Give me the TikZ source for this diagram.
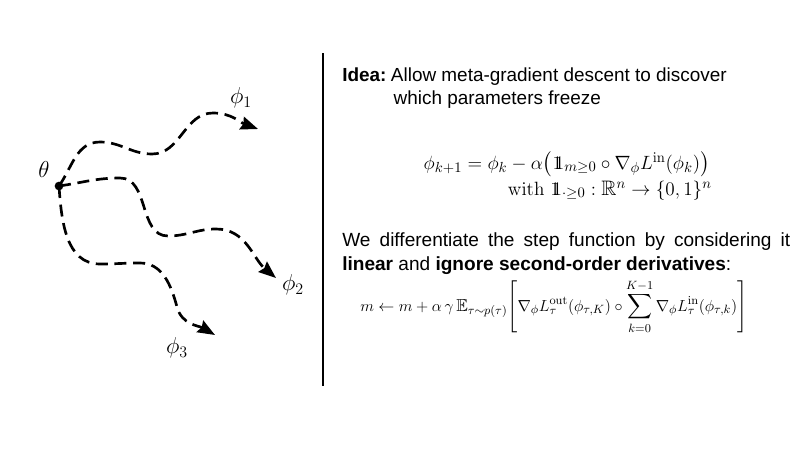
\documentclass[tikz,border=0pt]{standalone}
\usepackage{amsmath,amssymb}
\usepackage[no-math]{fontspec}
\setmainfont{Liberation Sans}
\usetikzlibrary{arrows.meta}
\newcommand{\indic}{\mathrm{1\mkern-6.5mu1}}
\tikzset{
  traj/.style={line width=2pt, dash pattern=on 9pt off 5pt, -{Stealth[length=13pt,width=10pt,inset=1.5pt]}},
  lbl/.style={inner sep=0pt, font=\fontsize{17}{20}\selectfont},
  txt/.style={inner sep=0pt, anchor=base west, font=\fontsize{14.2}{17.5}\selectfont},
  txtb/.style={inner sep=0pt, anchor=base west, font=\fontsize{14.3}{18}\selectfont},
  eqn/.style={inner sep=0pt, font=\fontsize{15.7}{19}\selectfont},
}
\begin{document}
\begin{tikzpicture}[x=0.75pt,y=0.75pt]
\useasboundingbox (0,0) rectangle (800,-450);
% left: trajectories
\node[circle, fill=black, inner sep=0pt, minimum size=6.5pt] (theta) at (59,-186) {};
\node[lbl] (thl) at (44,-169) {$\theta$};
\coordinate (e1) at (258,-129);
\coordinate (e2) at (276,-278);
\coordinate (e3) at (215,-335);
\node[lbl] (p1) at (241,-98) {$\phi_1$};
\node[lbl] (p2) at (293,-285) {$\phi_2$};
\node[lbl] (p3) at (177,-348) {$\phi_3$};
\draw[traj] (theta.center) to[out=55,in=180] (100,-142) to[out=0,in=180] (152,-154)
  to[out=0,in=180] (213,-113) to[out=0,in=160] (e1);
\draw[traj] (theta.center) to[out=8,in=180] (120,-178) to[out=0,in=180] (168,-236)
  to[out=0,in=180] (216,-229) to[out=0,in=140] (e2);
\draw[traj] (theta.center) to[out=-86,in=180] (100,-264) to[out=0,in=180] (140,-263)
  to[out=0,in=105] (177,-307) to[out=-75,in=150] (e3);
% divider
\coordinate (vt) at (323,-53);
\coordinate (vb) at (323,-386);
\draw[line width=2pt] (vt) -- (vb);
% right text
\node[txt] (idea) at (342,-81) {\textbf{Idea:}};
\node[txt, anchor=base west] (ideatxt) at ([xshift=3pt]idea.base east)
  {\begin{tabular}[t]{@{}l@{}}Allow meta-gradient descent to discover\\ \hspace*{2pt}which parameters freeze\end{tabular}};
\node[eqn, anchor=base east] (eq1) at (710,-169)
  {$\phi_{k+1} = \phi_k - \alpha\bigl(\indic_{m\geq 0} \circ \nabla_{\phi} L^{\mathrm{in}}(\phi_k)\bigr)$};
\node[eqn, anchor=base east] (eq2) at (712,-195)
  {$\mathrm{with}\ \indic_{\cdot\geq 0} : \mathbb{R}^n \rightarrow \{0,1\}^n$};
\node[txtb] (we) at (342,-246)
  {\begin{tabular}[t]{@{}l@{}}\makebox[336pt][s]{We differentiate the step function by considering it}\\ \textbf{linear} and \textbf{ignore second-order derivatives}:\end{tabular}};
\node[eqn, anchor=base west, font=\fontsize{13}{15}\selectfont] (eq3) at (360,-311)
  {$\displaystyle m \leftarrow m + \alpha\,\gamma\,\mathbb{E}_{\tau\sim p(\tau)}\Biggl[\nabla_{\phi} L^{\mathrm{out}}_{\tau}(\phi_{\tau,K}) \circ \sum_{k=0}^{K-1} \nabla_{\phi} L^{\mathrm{in}}_{\tau}(\phi_{\tau,k})\Biggr]$};
\end{tikzpicture}
\end{document}
